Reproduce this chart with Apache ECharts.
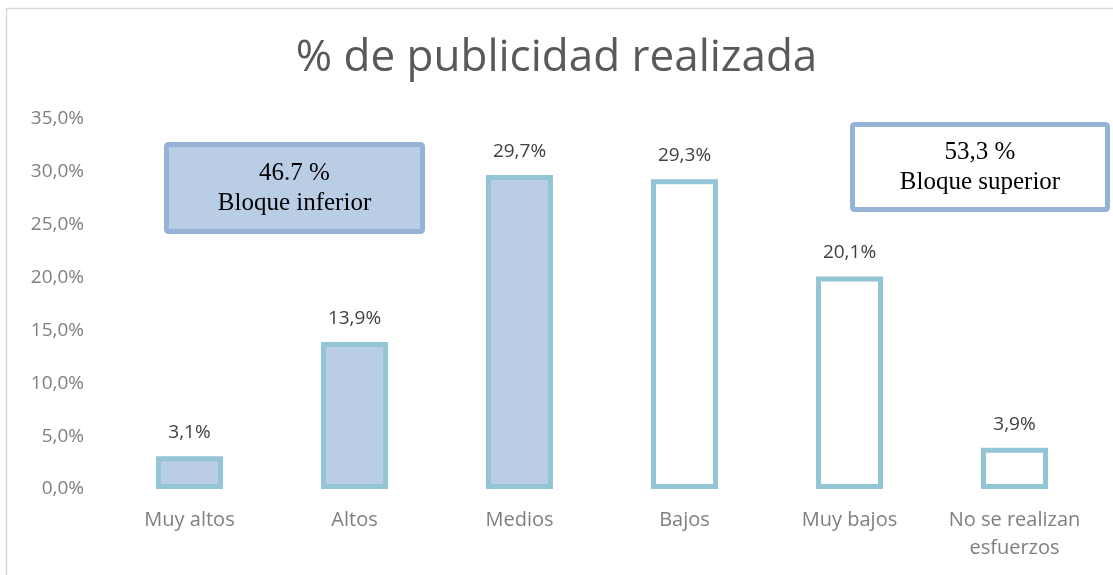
<!DOCTYPE html>
<html lang="es">
<head>
    <meta charset="UTF-8">
    <title>% de publicidad realizada</title>
    <script src="https://cdn.jsdelivr.net/npm/echarts@6/dist/echarts.min.js"></script>
    <style>
        html, body { margin: 0; padding: 0; background: #fff; }
    </style>
</head>
<body>
<div id="chart" style="width: 1113px;height:575px;"></div>
<script>
    // datos
    var categorias = ['Muy altos', 'Altos', 'Medios', 'Bajos', 'Muy bajos', 'No se realizan\nesfuerzos'];
    var porcentajes = [3.1, 13.9, 29.7, 29.3, 20.1, 3.9];
    var ticksY = [0, 5, 10, 15, 20, 25, 30, 35];
    var textoInferior = ['46.7 %', 'Bloque inferior'];
    var textoSuperior = ['53,3 %', 'Bloque superior'];
    var numInferior = 3; // las tres primeras barras forman el bloque inferior

    var myChart = echarts.init(document.getElementById('chart'));

    function coma(v) {
        return v.toFixed(1).replace('.', ',') + '%';
    }

    var datosBarras = porcentajes.map(function (v, i) {
        return {
            value: v,
            itemStyle: { color: i < numInferior ? '#b9cde5' : '#ffffff' }
        };
    });

    function caja(x, y, w, h, relleno, lineas) {
        return {
            type: 'group',
            left: x,
            top: y,
            children: [
                {
                    type: 'rect',
                    shape: { x: 0, y: 0, width: w, height: h, r: 2 },
                    style: { fill: relleno, stroke: '#95b3d7', lineWidth: 5 }
                },
                {
                    type: 'text',
                    x: w / 2,
                    y: h / 2,
                    style: {
                        text: lineas.join('\n'),
                        fill: '#000',
                        font: '25px "Liberation Serif", "DejaVu Serif", serif',
                        align: 'center',
                        verticalAlign: 'middle',
                        lineHeight: 30
                    }
                }
            ]
        };
    }

    var option = {
        animation: false,
        backgroundColor: '#fff',
        title: {
            text: '% de publicidad realizada',
            left: 'center',
            top: 31,
            textStyle: {
                fontFamily: 'Open Sans',
                fontSize: 44,
                fontWeight: 'normal',
                color: '#595959'
            }
        },
        grid: { left: 107, right: 16, top: 119, bottom: 86 },
        xAxis: {
            type: 'category',
            data: categorias,
            axisLine: { show: false },
            axisTick: { show: false },
            axisLabel: {
                color: '#7f7f7f',
                fontFamily: 'Open Sans',
                fontSize: 20,
                lineHeight: 28,
                margin: 17,
                interval: 0
            }
        },
        yAxis: {
            type: 'value',
            min: ticksY[0],
            max: ticksY[ticksY.length - 1],
            interval: 5,
            splitLine: { show: false },
            axisLine: { show: false },
            axisTick: { show: false },
            axisLabel: {
                color: '#7f7f7f',
                fontFamily: 'Open Sans',
                fontSize: 19,
                margin: 23,
                formatter: function (v) { return coma(v); }
            }
        },
        series: [
            {
                type: 'bar',
                data: datosBarras,
                barWidth: 67,
                itemStyle: { borderColor: '#93c5d6', borderWidth: 5 },
                label: {
                    show: true,
                    position: 'top',
                    distance: 14,
                    color: '#404040',
                    fontFamily: 'Open Sans',
                    fontSize: 19,
                    formatter: function (p) { return coma(p.value); }
                }
            }
        ],
        graphic: [
            {
                type: 'rect',
                left: 4,
                top: 6,
                shape: { x: 0, y: 0, width: 1130, height: 600 },
                style: { fill: 'none', stroke: '#d9d9d9', lineWidth: 1.5 },
                z: -10
            },
            caja(164, 142, 256, 87, '#b9cde5', textoInferior),
            caja(850, 122, 255, 85, '#ffffff', textoSuperior)
        ]
    };

    myChart.setOption(option);
</script>
</body>
</html>
